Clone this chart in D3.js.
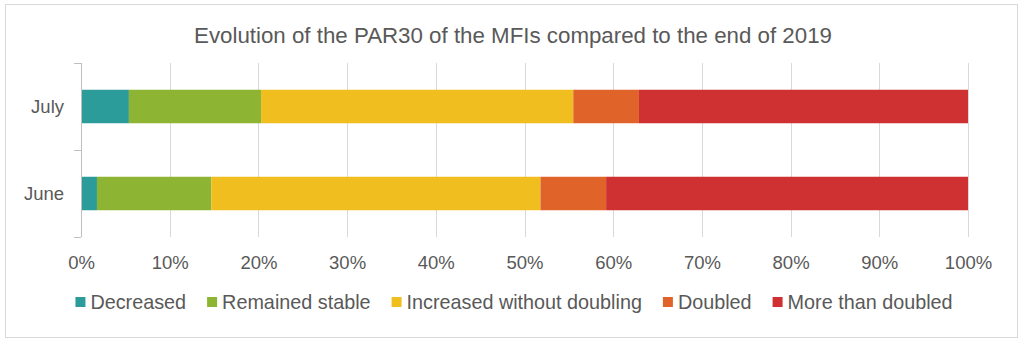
<!DOCTYPE html>
<html>
<head>
<meta charset="utf-8">
<script src="https://cdn.jsdelivr.net/npm/d3@7"></script>
<style>
  html, body { margin: 0; padding: 0; background: #fff; }
  svg { display: block; font-family: "Liberation Sans", Arial, sans-serif; }
</style>
</head>
<body>
<svg id="chart" width="1024" height="347"></svg>
<script>
const categories = ["July", "June"];
const seriesNames = ["Decreased", "Remained stable", "Increased without doubling", "Doubled", "More than doubled"];
const seriesColors = ["#2b9c99", "#8db433", "#f0be1f", "#e0632a", "#cf3032"];
// percentage share per series, aligned with categories
const decreased = [5.4, 1.8];
const remainedStable = [14.9, 12.9];
const increasedWithoutDoubling = [35.2, 37.1];
const doubled = [7.4, 7.4];
const moreThanDoubled = [37.1, 40.8];
const xTicks = [0, 10, 20, 30, 40, 50, 60, 70, 80, 90, 100];
const title = "Evolution of the PAR30 of the MFIs compared to the end of 2019";

const seriesValues = [decreased, remainedStable, increasedWithoutDoubling, doubled, moreThanDoubled];
const rows = categories.map((c, i) => {
  const r = { category: c };
  seriesNames.forEach((s, j) => r[s] = seriesValues[j][i]);
  return r;
});

const svg = d3.select("#chart");
const textColor = "#595959";

// outer border
svg.append("rect").attr("x", 5.5).attr("y", 4.5).attr("width", 1012).attr("height", 333)
  .attr("fill", "#fff").attr("stroke", "#d9d9d9").attr("stroke-width", 1);

const plot = { left: 81, right: 968, top: 63, bottom: 237 };

const x = d3.scaleLinear().domain([0, 100]).range([plot.left, plot.right]);
const y = d3.scaleBand().domain(categories).range([plot.top, plot.bottom])
  .paddingInner(0.615).paddingOuter(0.3075);

// title
svg.append("text").attr("x", 513).attr("y", 35).attr("text-anchor", "middle")
  .attr("dominant-baseline", "central").attr("fill", textColor)
  .style("font-size", "22.3px").text(title);

// gridlines
svg.append("g").selectAll("line").data(xTicks.filter(t => t > 0)).join("line")
  .attr("x1", d => Math.round(x(d)) + 0.5).attr("x2", d => Math.round(x(d)) + 0.5)
  .attr("y1", plot.top).attr("y2", plot.bottom)
  .attr("stroke", "#d9d9d9").attr("stroke-width", 1);

// stacked bars
const stack = d3.stack().keys(seriesNames)(rows);
svg.append("g").selectAll("g").data(stack).join("g")
  .attr("fill", (d, i) => seriesColors[i])
  .selectAll("rect").data(d => d).join("rect")
  .attr("x", d => x(d[0]))
  .attr("width", d => x(d[1]) - x(d[0]))
  .attr("y", d => y(d.data.category))
  .attr("height", y.bandwidth());

// y axis (category boundary ticks)
const yAxisG = svg.append("g");
yAxisG.append("line").attr("x1", plot.left + 0.5).attr("x2", plot.left + 0.5)
  .attr("y1", plot.top).attr("y2", plot.bottom).attr("stroke", "#bfbfbf");
const boundaries = [plot.top].concat(categories.map(c => y(c) + y.bandwidth() / 2 + y.step() / 2));
yAxisG.selectAll("line.tk").data(boundaries).join("line").attr("class", "tk")
  .attr("x1", plot.left - 7).attr("x2", plot.left)
  .attr("y1", d => Math.round(d) + 0.5).attr("y2", d => Math.round(d) + 0.5)
  .attr("stroke", "#bfbfbf");
yAxisG.selectAll("text").data(categories).join("text")
  .attr("x", 64).attr("y", d => y(d) + y.bandwidth() / 2)
  .attr("text-anchor", "end").attr("dominant-baseline", "central")
  .attr("fill", textColor).style("font-size", "18.5px").text(d => d);

// x axis labels via d3 axis
const xAxis = d3.axisBottom(x).tickValues(xTicks).tickFormat(d => d + "%").tickSize(0).tickPadding(0);
const xg = svg.append("g").attr("transform", `translate(0, 262)`).call(xAxis);
xg.select(".domain").remove();
xg.selectAll("text").attr("fill", textColor).attr("dy", null)
  .attr("dominant-baseline", "central").style("font-size", "18.5px")
  .style("font-family", "'Liberation Sans', Arial, sans-serif");

// legend
const legend = svg.append("g");
const items = legend.selectAll("g").data(seriesNames).join("g");
items.append("rect").attr("width", 10).attr("height", 10).attr("y", -5)
  .attr("fill", (d, i) => seriesColors[i]);
items.append("text").attr("x", 15).attr("dominant-baseline", "central")
  .attr("fill", textColor).style("font-size", "19.8px").text(d => d);
let cx = 0;
const gap = 21;
items.each(function() {
  const g = d3.select(this);
  const w = 15 + g.select("text").node().getComputedTextLength();
  g.attr("transform", `translate(${cx},0)`);
  cx += w + gap;
});
const total = cx - gap;
legend.attr("transform", `translate(${514 - total / 2}, 302)`);
</script>
</body>
</html>
